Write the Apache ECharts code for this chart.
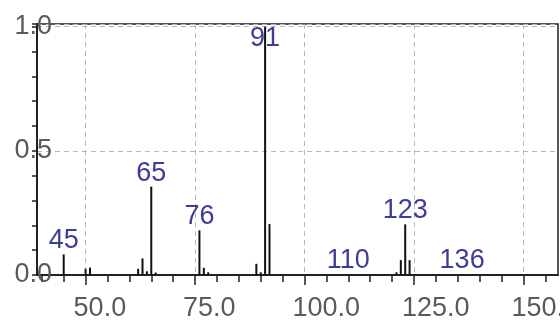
<!DOCTYPE html>
<html>
<head>
<meta charset="utf-8">
<script src="https://cdn.jsdelivr.net/npm/echarts@6/dist/echarts.min.js"></script>
<style>
  html, body { margin: 0; padding: 0; background: #fff; }
  #chart { width: 560px; height: 320px; }
</style>
</head>
<body>
<div id="chart"></div>
<script>
// Mass spectrum: m/z values and normalised intensities
const mz = [45, 50, 51, 62, 63, 64, 65, 66, 76, 77, 78, 89, 90, 91, 92, 110, 121, 122, 123, 124, 136];
const intensity = [0.083, 0.025, 0.03, 0.025, 0.067, 0.015, 0.356, 0.01, 0.18, 0.029, 0.011, 0.045, 0.011, 1.0, 0.205, 0.003, 0.011, 0.06, 0.204, 0.06, 0.003];
// Peaks that carry an m/z label
const labeledPeaks = [45, 65, 76, 91, 110, 123, 136];
// Axis ticks
const xMajorTicks = [50, 75, 100, 125, 150];
const xMinorTicks = [40, 45, 55, 60, 65, 70, 80, 85, 90, 95, 105, 110, 115, 120, 130, 135, 140, 145, 155];
const yTickLabels = [0.0, 0.5, 1.0];

const X_MIN = 38.9, X_MAX = 157.9;
const Y_MAX = 1.011;
const FONT = 'Liberation Sans, Arial, sans-serif';
const axisColor = '#222';
const labelGray = '#5a5a5a';
const peakLabelColor = '#3d3d99';

const topIndex = intensity.indexOf(Math.max(...intensity));

const seriesData = mz.map((m, i) => {
  const item = { value: [m, intensity[i]] };
  if (labeledPeaks.includes(m)) {
    item.label = i === topIndex
      ? { show: true, position: 'insideTop', distance: -2 }
      : { show: true, position: 'top', distance: 0 };
  }
  return item;
});

const chart = echarts.init(document.getElementById('chart'), null, { renderer: 'canvas' });
chart.setOption({
  animation: false,
  backgroundColor: '#fff',
  grid: {
    left: 37, right: 2, top: 24, bottom: 45,
    outerBoundsMode: 'none', containLabel: false,
    show: true, borderColor: axisColor, borderWidth: 1.5, backgroundColor: 'transparent'
  },
  xAxis: [
    {
      type: 'value', min: X_MIN, max: X_MAX, position: 'bottom',
      axisLine: { show: true, onZero: false, lineStyle: { color: axisColor, width: 2 } },
      axisTick: { show: true, customValues: xMajorTicks, length: 10, lineStyle: { color: axisColor, width: 1.5 } },
      axisLabel: {
        show: true, customValues: xMajorTicks, margin: 20,
        align: 'left', padding: [0, 0, 0, -12],
        formatter: v => Number(v).toFixed(1),
        fontSize: 27, fontFamily: FONT, color: labelGray
      },
      splitLine: { show: true, lineStyle: { color: '#b8b8b8', width: 1, type: [5, 4] } }
    },
    {
      type: 'value', min: X_MIN, max: X_MAX, position: 'bottom',
      axisLine: { show: false },
      axisTick: { show: true, customValues: xMinorTicks, length: 7, lineStyle: { color: axisColor, width: 1.5 } },
      axisLabel: { show: false },
      splitLine: { show: false }
    }
  ],
  yAxis: {
    type: 'value', min: 0, max: Y_MAX, interval: 0.5,
    axisLine: { show: true, onZero: false, lineStyle: { color: axisColor, width: 2 } },
    axisTick: { show: true, length: 5, lineStyle: { color: axisColor, width: 1.5 } },
    minorTick: { show: true, splitNumber: 5, length: 5, lineStyle: { color: axisColor, width: 1.5 } },
    axisLabel: {
      show: true, customValues: yTickLabels, margin: -15,
      formatter: v => Number(v).toFixed(1),
      fontSize: 27, fontFamily: FONT, color: labelGray
    },
    splitLine: { show: true, lineStyle: { color: '#b8b8b8', width: 1, type: [5, 4] } }
  },
  series: [{
    type: 'bar',
    xAxisIndex: 0,
    barWidth: 2,
    itemStyle: { color: '#111' },
    label: {
      show: false,
      formatter: p => String(p.value[0]),
      fontSize: 27, fontFamily: FONT, color: peakLabelColor
    },
    data: seriesData
  }]
});
</script>
</body>
</html>
